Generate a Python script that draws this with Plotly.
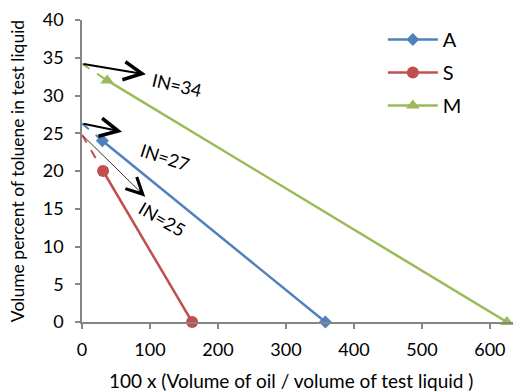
import plotly.graph_objects as go

# Data
series_names = ["A", "S", "M"]
a_x = [30, 358]
a_y = [24, 0]
s_x = [31, 162]
s_y = [20, 0]
m_x = [37, 625]
m_y = [32, 0]
# dashed extrapolations to y-axis (intercept values)
a_int = 26.3
s_int = 24.8
m_int = 34.2
in_labels = ["IN=34", "IN=27", "IN=25"]
in_values_y = [m_int, a_int, s_int]
x_ticks = [0, 100, 200, 300, 400, 500, 600]
y_ticks = [0, 5, 10, 15, 20, 25, 30, 35, 40]
x_title = "100 x (Volume of oil / volume of test liquid )"
y_title = "Volume percent of toluene in test liquid"

colors = {"A": "#4F81BD", "S": "#C0504D", "M": "#9BBB59"}
font = "Lato, 'Open Sans', sans-serif"

fig = go.Figure()

# dashed extensions
for nm, xs, ys, yi in [("A", a_x, a_y, a_int), ("S", s_x, s_y, s_int), ("M", m_x, m_y, m_int)]:
    fig.add_trace(go.Scatter(x=[0, xs[0]], y=[yi, ys[0]], mode="lines",
                             line=dict(color=colors[nm], width=2, dash="dash"),
                             showlegend=False, hoverinfo="skip", cliponaxis=False))

fig.add_trace(go.Scatter(x=a_x, y=a_y, name="A", legendgroup="A", mode="lines+markers", cliponaxis=False,
                         line=dict(color=colors["A"], width=2.5),
                         marker=dict(symbol="diamond", size=10, color=colors["A"])))
fig.add_trace(go.Scatter(x=s_x, y=s_y, name="S", legendgroup="S", mode="lines+markers", cliponaxis=False,
                         line=dict(color=colors["S"], width=2.5),
                         marker=dict(symbol="circle", size=12, color=colors["S"])))
fig.add_trace(go.Scatter(x=m_x, y=m_y, name="M", legendgroup="M", mode="lines+markers", cliponaxis=False,
                         line=dict(color=colors["M"], width=2.5),
                         marker=dict(symbol="triangle-up", size=12, color=colors["M"])))

# arrows
arrow_ends = [(94, 32.8, 2, 5), (59, 25.2, 2, 5), (93, 16.6, 0.8, 5)]
for yi, (ex, ey, w, hd) in zip(in_values_y, arrow_ends):
    fig.add_annotation(x=ex, y=ey, ax=0, ay=yi, xref="x", yref="y", axref="x", ayref="y",
                       showarrow=True, arrowhead=hd, arrowsize=1.8 if w > 1 else 4,
                       arrowwidth=w, arrowcolor="black", text="")

# IN labels
label_pos = [(140, 31.4, 13), (122, 21.9, 18), (118, 13.6, 30)]
for txt, (lx, ly, ang) in zip(in_labels, label_pos):
    fig.add_annotation(x=lx, y=ly, xref="x", yref="y", text=txt, showarrow=False,
                       textangle=ang, font=dict(family=font, size=18, color="black"))

# x-axis title (as annotation for exact placement)
fig.add_annotation(x=0.485, y=-0.195, xref="paper", yref="paper", text=x_title,
                   showarrow=False, xanchor="center", yanchor="middle",
                   font=dict(family=font, size=19, color="black"))

axis_common = dict(showline=True, linecolor="#868686", linewidth=1.5, ticks="outside",
                   tickcolor="#868686", ticklen=5, tickwidth=1.5, showgrid=False, zeroline=False,
                   automargin=False,
                   tickfont=dict(family=font, size=18, color="black"))

fig.update_layout(
    width=516, height=392,
    margin=dict(l=82, r=3, t=20, b=70),
    paper_bgcolor="white", plot_bgcolor="white",
    xaxis=dict(range=[0, 634], tickvals=x_ticks, ticklabelstandoff=6, **axis_common),
    yaxis=dict(range=[0, 40], tickvals=y_ticks, ticklabelstandoff=8,
               title=dict(text=y_title,
                          font=dict(family=font, size=17.5, color="black"), standoff=14),
               **axis_common),
    legend=dict(x=0.698, y=1.0, xanchor="left", yanchor="top", bgcolor="rgba(0,0,0,0)",
                font=dict(family=font, size=20, color="black"), itemwidth=50,
                tracegroupgap=4),
    showlegend=True,
)

fig.write_html("out.html", config={"displayModeBar": False},
               post_script="document.body.style.margin='0';")
